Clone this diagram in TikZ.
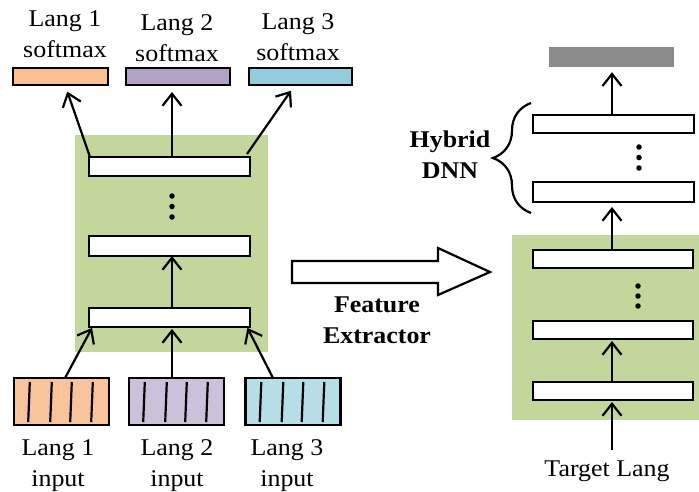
\documentclass[tikz,border=0pt]{standalone}
\usepackage{fontspec}
\setmainfont[FakeStretch=1.08]{Liberation Serif}
\usetikzlibrary{arrows.meta,decorations.pathreplacing,calc}
\definecolor{gfill}{HTML}{C3D69B}
\definecolor{smA}{HTML}{FAC090}
\definecolor{smB}{HTML}{B3A2C7}
\definecolor{smC}{HTML}{93CDDD}
\definecolor{inA}{HTML}{F9C39B}
\definecolor{inB}{HTML}{CCC0DA}
\definecolor{inC}{HTML}{B7DEE8}
\definecolor{outgray}{HTML}{8C8C8C}
\begin{document}
\begin{tikzpicture}[x=1pt,y=-1pt,
  layer/.style={draw=black,fill=white,line width=2.2pt,minimum width=161pt,minimum height=19pt,inner sep=0pt,outer sep=0pt},
  rlayer/.style={layer,minimum width=160pt,minimum height=18pt},
  smbox/.style={draw=black,line width=2.2pt,minimum height=17pt,inner sep=0pt,outer sep=0pt},
  inbox/.style={draw=black,line width=2.2pt,minimum width=95pt,minimum height=47pt,inner sep=0pt,outer sep=0pt},
  arr/.style={line width=2.2pt,-{Straight Barb[length=12pt,width=19pt,line width=2.2pt]}},
  lbl/.style={align=center,font=\fontsize{24}{31}\selectfont,inner sep=0pt},
  blbl/.style={lbl,font=\fontsize{24}{31}\selectfont\bfseries},
  dot/.style={circle,fill=black,inner sep=0pt,minimum size=5.5pt},
  stripe/.style={line width=2.2pt}
]
\useasboundingbox (0,0) rectangle (699,491);
% left green block
\node[fill=gfill,minimum width=193pt,minimum height=217pt,inner sep=0pt,anchor=north west] (G1) at (75,135) {};
\node[layer] (L1) at (169.5,166.5) {};
\node[layer,minimum height=20pt] (L2) at (169.5,246) {};
\node[layer] (L3) at (169.5,317.5) {};
\node[dot] (d1) at (172,196) {};
\node[dot] (d2) at (172,206.5) {};
\node[dot] (d3) at (172,217) {};
% softmax boxes
\node[smbox,fill=smA,minimum width=95pt] (S1) at (60.5,76.5) {};
\node[smbox,fill=smB,minimum width=104pt] (S2) at (178,76.5) {};
\node[smbox,fill=smC,minimum width=103pt] (S3) at (300.5,76.5) {};
\node[lbl] (T1) at (65,34) {Lang 1\\softmax};
\node[lbl] (T2) at (177,38) {Lang 2\\softmax};
\node[lbl] (T3) at (298,37) {Lang 3\\softmax};
\draw[arr,shorten >=7pt] ([xshift=1pt]L1.north west) -- ([xshift=4.5pt]S1.south);
\draw[arr,shorten >=7pt] ([xshift=2.5pt]L1.north) -- ([xshift=2.5pt]L1.north |- S2.south);
\draw[arr,shorten >=7pt] ([xshift=-3pt,yshift=3pt]L1.north east) -- ([xshift=-5.5pt]S3.south);
\draw[arr] (L3.north) ++(2.5pt,0) coordinate (l3n) (l3n) -- (l3n |- L2.south);
% input boxes
\node[inbox,fill=inA] (I1) at (61.5,401.5) {};
\node[inbox,fill=inB] (I2) at (176.5,401.5) {};
\node[inbox,fill=inC] (I3) at (293,401.5) {};
\foreach \b in {I1,I2,I3}{
  \foreach \dx in {15,37,57,78}{
    \draw[stripe] ($(\b.north west)+(\dx+0.8,4)$) -- ($(\b.north west)+(\dx-0.8,44)$);
  }
}
\node[lbl] (B1) at (58,466) {Lang 1\\input};
\node[lbl] (B2) at (177,466) {Lang 2\\input};
\node[lbl] (B3) at (287,466) {Lang 3\\input};
\draw[arr,shorten >=1pt] ([xshift=3.5pt]I1.north) -- ([xshift=3.5pt]L3.south west);
\draw[arr,shorten >=2pt] ([xshift=-4.5pt]I2.north) -- ([xshift=-4.5pt]I2.north |- L3.south);
\draw[arr,shorten >=1pt] ([xshift=-20pt]I3.north) -- ([xshift=-3pt]L3.south east);
% big hollow arrow
\draw[line width=2.2pt,fill=white,line join=miter] (292,261) -- (438,261) -- (438,248) -- (490,272) -- (438,295) -- (438,283) -- (292,283) -- cycle;
\node[blbl] (FE) at (377,320) {Feature\\Extractor};
% right green block
\node[fill=gfill,minimum width=187pt,minimum height=185pt,inner sep=0pt,anchor=north west] (G2) at (512,235) {};
\node[rlayer] (RA) at (613,259) {};
\node[rlayer] (RB) at (613,330) {};
\node[rlayer] (RC) at (613,391) {};
\node[dot] (e1) at (638,286) {};
\node[dot] (e2) at (638,296) {};
\node[dot] (e3) at (638,306) {};
\node[lbl] (TL) at (607,471) {Target Lang};
\coordinate (tls) at (612,450);
\draw[arr,shorten >=2pt] (tls) -- (tls |- RC.south);
\draw[arr,shorten >=2pt] (RC.north -| tls) -- (tls |- RB.south);
% hybrid DNN
\node[rlayer,minimum width=161pt] (HD) at (613.5,124) {};
\node[rlayer,minimum width=161pt,minimum height=20pt] (HE) at (613.5,192) {};
\node[dot] (h1) at (639,147) {};
\node[dot] (h2) at (639,157.5) {};
\node[dot] (h3) at (639,168) {};
\node[fill=outgray,minimum width=125pt,minimum height=20pt,inner sep=0pt] (OUT) at (611.5,57) {};
\draw[arr,shorten >=5pt] (RA.north -| tls) -- (tls |- HE.south);
\draw[arr,shorten >=5pt] (HD.north -| tls) -- (tls |- OUT.south);
\draw[line width=2.2pt,decoration={brace,amplitude=38pt,aspect=0.5},decorate] (531,213) -- (531,103);
\node[blbl] (HY) at (450,155) {Hybrid\\DNN};
\end{tikzpicture}
\end{document}
